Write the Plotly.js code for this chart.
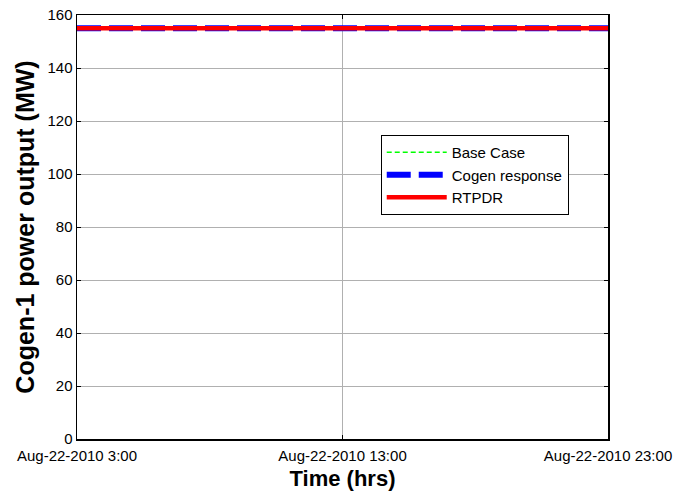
<!DOCTYPE html>
<html>
<head>
<meta charset="utf-8">
<script src="https://cdn.plot.ly/plotly-3.0.1.min.js"></script>
<style>
  html, body { margin: 0; padding: 0; background: #fff; }
  #chart { width: 678px; height: 493px; }
</style>
</head>
<body>
<div id="chart"></div>
<script>
// Hourly timestamps for the day
const times = [
  '2010-08-22 03:00', '2010-08-22 04:00', '2010-08-22 05:00', '2010-08-22 06:00',
  '2010-08-22 07:00', '2010-08-22 08:00', '2010-08-22 09:00', '2010-08-22 10:00',
  '2010-08-22 11:00', '2010-08-22 12:00', '2010-08-22 13:00', '2010-08-22 14:00',
  '2010-08-22 15:00', '2010-08-22 16:00', '2010-08-22 17:00', '2010-08-22 18:00',
  '2010-08-22 19:00', '2010-08-22 20:00', '2010-08-22 21:00', '2010-08-22 22:00',
  '2010-08-22 23:00'
];

// Cogen-1 output (MW) under each scenario
const baseCase = [155, 155, 155, 155, 155, 155, 155, 155, 155, 155, 155,
                  155, 155, 155, 155, 155, 155, 155, 155, 155, 155];
const cogenResponse = [155, 155, 155, 155, 155, 155, 155, 155, 155, 155, 155,
                       155, 155, 155, 155, 155, 155, 155, 155, 155, 155];
const rtpdr = [155, 155, 155, 155, 155, 155, 155, 155, 155, 155, 155,
               155, 155, 155, 155, 155, 155, 155, 155, 155, 155];

const xTickVals = ['2010-08-22 03:00', '2010-08-22 13:00', '2010-08-22 23:00'];
const xTickText = ['Aug-22-2010 3:00', 'Aug-22-2010 13:00', 'Aug-22-2010 23:00'];
const yTickVals = [0, 20, 40, 60, 80, 100, 120, 140, 160];

const FONT = 'Liberation Sans, Arial, sans-serif';

const traces = [
  {
    x: times, y: baseCase, name: 'Base Case', type: 'scatter', mode: 'lines',
    line: { color: '#00ff00', width: 1.5, dash: '5px,3px' }
  },
  {
    x: times, y: cogenResponse, name: 'Cogen response', type: 'scatter', mode: 'lines',
    line: { color: '#0000ff', width: 6, dash: '24px,8px' }
  },
  {
    x: times, y: rtpdr, name: 'RTPDR', type: 'scatter', mode: 'lines',
    line: { color: '#ff0000', width: 4.5 }
  }
];

const tickFont = { family: FONT, size: 15, color: '#000' };

const layout = {
  width: 678,
  height: 493,
  margin: { l: 77, r: 70, t: 15, b: 54 },
  paper_bgcolor: '#fff',
  plot_bgcolor: '#fff',
  font: tickFont,
  showlegend: true,
  legend: {
    x: 0.572, y: 0.717, xanchor: 'left', yanchor: 'top',
    bgcolor: '#fff', bordercolor: '#000', borderwidth: 1,
    font: { family: FONT, size: 15, color: '#000' },
    itemwidth: 60,
    tracegroupgap: 0
  },
  xaxis: {
    type: 'date',
    range: ['2010-08-22 03:00', '2010-08-22 23:00'],
    tickmode: 'array', tickvals: xTickVals, ticktext: xTickText,
    ticks: 'inside', ticklen: 4, tickcolor: '#000',
    ticklabelstandoff: 2,
    showgrid: true, gridcolor: '#b0b0b0', gridwidth: 1,
    showline: true, linecolor: '#000', linewidth: 1.5, mirror: 'ticks',
    zeroline: false,
    tickfont: tickFont,
    title: { text: '<b>Time (hrs)</b>', font: { family: FONT, size: 22, color: '#000' }, standoff: 8 }
  },
  yaxis: {
    range: [0, 160],
    tickmode: 'array', tickvals: yTickVals,
    ticks: 'inside', ticklen: 4, tickcolor: '#000',
    showgrid: true, gridcolor: '#b0b0b0', gridwidth: 1,
    showline: true, linecolor: '#000', linewidth: 1.5, mirror: 'ticks',
    zeroline: false,
    tickfont: tickFont,
    title: { text: '<b>Cogen-1 power output (MW)</b>', font: { family: FONT, size: 25, color: '#000' }, standoff: 5 }
  }
};

Plotly.newPlot('chart', traces, layout, { displayModeBar: false, staticPlot: true });
</script>
</body>
</html>
